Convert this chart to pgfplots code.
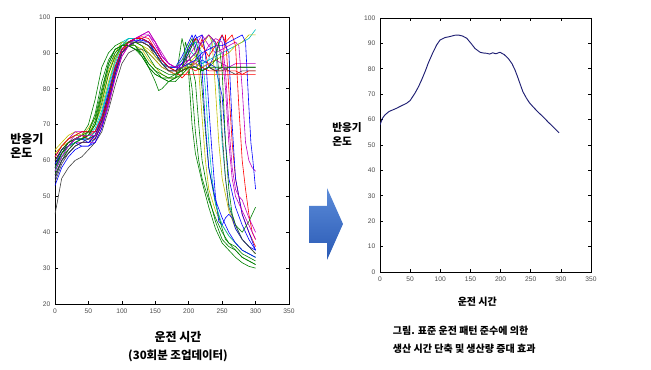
\documentclass[border=0pt]{standalone}
\usepackage{pgfplots}
\pgfplotsset{compat=1.18}
\usepackage{fontspec}
\setmainfont{Liberation Sans}
\newfontfamily\kr{Noto Sans CJK KR}
\definecolor{mB}{rgb}{0,0,1}
\definecolor{mG}{rgb}{0,0.5,0}
\definecolor{mR}{rgb}{1,0,0}
\definecolor{mC}{rgb}{0,0.75,0.75}
\definecolor{mM}{rgb}{0.75,0,0.75}
\definecolor{mY}{rgb}{0.75,0.75,0}
\definecolor{mK}{rgb}{0.25,0.25,0.25}
\definecolor{navy}{rgb}{0.12,0.12,0.45}
\definecolor{arrL}{HTML}{5B8BD9}
\definecolor{arrD}{HTML}{2A5AB5}
\pgfplotsset{
  matstyle/.style={
    scale only axis,
    axis line style={black,line width=0.7pt},
    tick align=inside,
    major tick length=2.5pt,
    tick style={black,line width=0.5pt},
    ticklabel style={font=\fontsize{5}{6}\selectfont, text=black!70},
    /pgf/number format/assume math mode=true,
    every axis plot/.append style={line width=0.45pt, line join=round},
  }
}
\begin{document}
\begin{tikzpicture}
\useasboundingbox (0pt,0pt) rectangle (488.25pt,277.5pt);
% left axis
\begin{axis}[matstyle,
  at={(41.25pt,49.5pt)}, anchor=south west,
  width=175.5pt, height=215.25pt,
  xmin=0, xmax=350, ymin=20, ymax=100,
  xtick={0,50,...,350}, ytick={20,30,...,100},
]
\addplot[mB] coordinates {(0,55)(10,60)(20,62)(30,64)(40,65)(50,65)(60,67)(70,71)(80,78)(90,85)(100,91)(110,93)(120,93.5)(130,93.5)(140,93)(150,90)(160,87)(170,85)(180,84)(190,85)(200,87)(210,86)(220,88)(230,87)(240,86)(250,78)(255,65)(260,55)(270,47)(280,42)(290,38)(300,35)};
\addplot[mG] coordinates {(0,58)(10,62)(20,64)(30,66)(40,67)(50,70)(60,77)(70,86)(80,90)(90,92)(100,93)(110,93)(120,92)(130,89)(140,86)(150,82)(155,79.5)(160,80)(170,82)(180,83)(185,88)(190,94)(195,90)(200,84)(205,70)(210,62)(220,54)(230,47)(240,41)(250,37)(260,35)(270,33)(280,31.5)(290,30.5)(300,30)};
\addplot[mR] coordinates {(0,60)(10,63)(20,65)(30,66)(40,67)(50,66)(60,66)(70,70)(80,76)(90,84)(100,90)(110,93)(120,94)(130,94.5)(140,94)(150,91)(160,88)(170,86)(180,85)(190,83)(200,85)(210,88)(220,94)(225,90)(230,86)(240,85)(250,86)(255,95)(260,80)(265,65)(270,55)(280,45)(290,40)(300,36)};
\addplot[mC] coordinates {(0,57)(10,62)(20,64)(30,66)(40,66)(50,66)(60,68)(70,73)(80,81)(90,88)(100,93)(110,94)(120,94)(130,93)(140,92)(150,90)(160,87)(170,86)(180,86)(190,87)(200,86)(210,88)(220,87)(230,88)(240,89)(250,90)(260,91)(270,92)(280,93)(290,94)(300,96.5)};
\addplot[mM] coordinates {(0,59)(10,62)(20,65)(30,67)(40,68)(50,68)(60,66)(70,70)(80,77)(90,84)(100,90)(110,93)(120,94)(130,95)(140,96)(150,93)(160,89)(170,87)(180,86)(190,87)(200,89)(210,92)(220,95)(230,92)(240,90)(250,91)(260,92)(270,93)(275,92)(280,80)(285,65)(290,60)(295,58)(300,57)};
\addplot[mY] coordinates {(0,62)(10,64)(20,65)(30,66)(40,67)(50,69)(60,72)(70,78)(80,85)(90,89)(100,91)(110,92)(120,92)(130,91)(140,88)(150,86)(160,84)(170,83)(180,83)(190,84)(200,86)(210,88)(215,85)(220,72)(225,60)(230,52)(240,46)(250,42)(260,39)(270,37)(280,35)(290,34)(300,33)};
\addplot[mK] coordinates {(0,45)(5,50)(10,55)(20,58)(30,60)(40,61)(50,63)(60,65)(70,68)(80,74)(90,81)(100,87)(110,90)(120,91)(130,91)(140,90)(150,88)(160,86)(170,85)(180,85)(190,86)(200,87)(210,86)(220,85)(230,86)(240,85)(250,86)(260,85)(270,84)(280,85)(290,85)(300,85)};
\addplot[mB] coordinates {(0,60)(10,63)(20,64)(30,65)(40,64)(50,64)(60,66)(70,71)(80,78)(90,86)(100,91)(110,93)(120,94)(130,94)(140,93)(150,91)(160,88)(170,86)(180,86)(190,89)(200,93)(205,95)(210,92)(215,88)(220,85)(230,86)(240,90)(250,95)(255,92)(260,90)(265,70)(270,55)(280,45)(290,40)(300,35)};
\addplot[mG] coordinates {(0,57)(10,61)(20,63)(30,65)(40,66)(50,67)(60,71)(70,79)(80,87)(90,91)(100,92)(110,92)(120,91)(130,90)(140,86)(150,84)(160,83)(170,82)(180,82)(190,84)(195,93)(200,90)(210,82)(215,70)(220,60)(230,50)(240,43)(250,38)(260,36)(270,35)(280,33)(290,32)(300,31)};
\addplot[mR] coordinates {(0,58)(10,62)(20,64)(30,66)(40,67)(50,67)(60,68)(70,72)(80,78)(90,85)(100,90)(110,92)(120,93)(130,93)(140,92)(150,90)(160,87)(170,85)(180,84)(190,84)(200,84)(210,84)(220,84)(230,84)(240,84)(250,84)(260,84)(270,84)(280,84)(290,84)(300,84)};
\addplot[mC] coordinates {(0,61)(10,64)(20,66)(30,67)(40,67)(50,67)(60,69)(70,74)(80,81)(90,88)(100,92)(110,94)(120,94)(130,94)(140,93)(150,90)(160,87)(170,86)(180,86)(190,88)(200,91)(210,89)(220,87)(230,88)(235,94)(240,92)(245,80)(250,65)(255,55)(260,48)(270,42)(280,38)(290,36)(300,34)};
\addplot[mM] coordinates {(0,56)(10,60)(20,63)(30,65)(40,65)(50,65)(60,65)(70,69)(80,75)(90,83)(100,89)(110,92)(120,93)(130,94)(140,95)(150,93)(160,89)(170,87)(180,86)(190,85)(200,86)(210,87)(220,86)(230,87)(240,88)(250,87)(260,86)(270,87)(280,87)(290,87)(300,87)};
\addplot[mY] coordinates {(0,63)(10,65)(20,67)(30,68)(40,67)(50,67)(60,70)(70,77)(80,84)(90,90)(100,93)(110,93)(120,93)(130,92)(140,90)(150,88)(160,86)(170,85)(180,84)(190,85)(200,87)(210,89)(220,92)(230,95)(235,93)(240,80)(245,65)(250,55)(260,46)(270,41)(280,38)(290,36)(300,34)};
\addplot[mK] coordinates {(0,54)(10,59)(20,62)(30,64)(40,65)(50,65)(60,66)(70,70)(80,77)(90,84)(100,90)(110,92)(120,93)(130,93)(140,92)(150,89)(160,87)(170,86)(180,85)(190,85)(200,86)(210,86)(220,85)(230,86)(240,85)(250,85)(260,86)(270,86)(280,86)(290,86)(300,86)};
\addplot[mB] coordinates {(0,58)(10,62)(20,64)(30,66)(40,66)(50,66)(60,67)(70,71)(80,78)(90,86)(100,91)(110,93)(120,93)(130,94)(140,93)(150,91)(160,88)(170,86)(180,86)(190,87)(200,90)(210,94)(220,95)(225,90)(230,75)(235,62)(240,50)(245,43)(250,42)(255,44)(260,45)(265,44)(270,41)(280,38)(290,36)(300,35)};
\addplot[mG] coordinates {(0,59)(10,62)(20,64)(30,65)(40,66)(50,68)(60,73)(70,82)(80,88)(90,91)(100,92)(110,92)(120,91)(130,90)(140,87)(150,85)(160,84)(170,83)(180,83)(190,86)(200,90)(210,94)(215,90)(220,80)(225,68)(230,58)(240,48)(250,41)(255,38)(260,37)(270,36)(280,34)(290,33)(300,32)};
\addplot[mR] coordinates {(0,60)(10,63)(20,65)(30,66)(40,67)(50,66)(60,67)(70,71)(80,77)(90,85)(100,90)(110,93)(120,94)(130,94)(140,93)(150,91)(160,88)(170,86)(180,86)(190,88)(200,91)(210,94)(220,92)(230,89)(240,92)(250,95)(255,93)(260,94)(265,95)(270,92)(275,75)(280,60)(285,52)(290,45)(295,40)(300,38)};
\addplot[mC] coordinates {(0,57)(10,61)(20,64)(30,65)(40,66)(50,66)(60,68)(70,73)(80,80)(90,87)(100,92)(110,94)(120,94)(130,94)(140,93)(150,90)(160,87)(170,86)(180,86)(190,88)(200,92)(210,93)(220,90)(225,80)(230,65)(235,55)(240,48)(250,42)(260,39)(270,37)(280,35)(290,34)(300,33)};
\addplot[mM] coordinates {(0,61)(10,64)(20,66)(30,68)(40,68)(50,68)(60,68)(70,72)(80,79)(90,86)(100,91)(110,93)(120,94)(130,95)(140,95)(150,92)(160,89)(170,87)(180,86)(190,87)(200,88)(210,87)(220,89)(230,92)(240,94)(250,93)(255,85)(260,70)(265,58)(270,52)(275,50)(280,49)(290,44)(300,40)};
\addplot[mY] coordinates {(0,62)(10,64)(20,66)(30,67)(40,67)(50,68)(60,70)(70,75)(80,82)(90,88)(100,92)(110,93)(120,93)(130,92)(140,91)(150,89)(160,87)(170,85)(180,85)(190,86)(200,86)(210,87)(220,86)(230,87)(240,88)(250,89)(260,90)(270,92)(280,93)(290,95)(300,95)};
\addplot[mB] coordinates {(0,53)(10,58)(20,61)(30,63)(40,64)(50,64)(60,65)(70,69)(80,76)(90,84)(100,90)(110,92)(120,93)(130,93)(140,93)(150,91)(160,88)(170,86)(180,86)(190,86)(200,87)(210,88)(220,90)(230,91)(240,92)(250,92)(260,93)(270,94)(280,95)(285,93)(290,75)(293,65)(296,60)(300,52)};
\addplot[mB] coordinates {(0,59)(10,63)(20,65)(30,66)(40,66)(50,65)(60,67)(70,72)(80,79)(90,86)(100,91)(110,93)(120,94)(130,94)(140,93)(150,90)(160,87)(170,85)(180,85)(190,87)(200,91)(210,95)(215,93)(220,85)(225,70)(230,58)(240,49)(250,44)(260,40)(270,37)(280,35)(290,34)(300,33)};
\addplot[mG] coordinates {(0,56)(10,60)(20,63)(30,65)(40,66)(50,67)(60,70)(70,78)(80,86)(90,90)(100,92)(110,92)(120,92)(130,90)(140,87)(150,85)(160,83)(170,82)(180,83)(190,84)(200,86)(205,80)(210,68)(215,60)(220,55)(230,49)(240,44)(250,40)(260,37)(270,35)(280,33)(290,32)(300,31)};
\addplot[mR] coordinates {(0,61)(10,64)(20,66)(30,67)(40,68)(50,68)(60,68)(70,72)(80,78)(90,86)(100,91)(110,93)(120,94)(130,94)(140,93)(150,91)(160,88)(170,86)(180,85)(190,85)(200,86)(210,85)(220,86)(230,85)(240,85)(250,85)(260,85)(270,85)(280,84)(290,85)(300,85)};
\addplot[mG] coordinates {(0,58)(10,62)(20,65)(30,66)(40,67)(50,68)(60,72)(70,80)(80,87)(90,91)(100,92)(110,92)(120,91)(130,89)(140,86)(150,84)(160,83)(170,83)(180,84)(190,86)(200,92)(205,94)(210,90)(220,85)(230,86)(240,88)(245,93)(250,85)(255,65)(260,52)(265,45)(270,42)(280,40)(290,43)(300,47)};
\addplot[mK] coordinates {(0,55)(10,60)(20,62)(30,64)(40,65)(50,66)(60,67)(70,71)(80,78)(90,85)(100,90)(110,92)(120,93)(130,93)(140,92)(150,90)(160,87)(170,85)(180,85)(190,86)(200,88)(210,90)(220,93)(230,95)(240,93)(245,85)(250,68)(255,55)(260,47)(270,42)(280,38)(290,36)(300,34)};
\addplot[mG] coordinates {(0,60)(10,63)(20,65)(30,66)(40,66)(50,67)(60,70)(70,76)(80,84)(90,89)(100,92)(110,93)(120,93)(130,92)(140,89)(150,86)(160,85)(170,84)(180,84)(190,85)(200,86)(210,86)(220,85)(230,86)(240,86)(250,86)(260,86)(270,86)(280,86)(290,86)(300,86)};
\addplot[mM] coordinates {(0,57)(10,61)(20,64)(30,66)(40,67)(50,67)(60,67)(70,70)(80,76)(90,83)(100,89)(110,92)(120,94)(130,95)(140,96)(150,93)(160,90)(170,87)(180,86)(190,86)(200,88)(210,90)(220,93)(230,95)(240,93)(250,90)(255,80)(260,65)(265,55)(270,50)(280,46)(290,42)(300,38)};
\end{axis}
% right axis
\begin{axis}[matstyle,
  at={(285pt,73.5pt)}, anchor=south west,
  width=158.25pt, height=190.5pt,
  xmin=0, xmax=350, ymin=0, ymax=100,
  xtick={0,50,...,350}, ytick={0,10,...,100},
]
\addplot[navy, line width=0.7pt] coordinates {(0,57.9)(4,60.5)(8,61.8)(15,63.2)(27,64.4)(36,65.5)(44,66.4)(50,67.5)(58,70.4)(64,73)(69,75.6)(75,79)(80,82.2)(87,86)(94,89.4)(99.5,91.3)(108,92.3)(116,92.7)(124,93.2)(130,93.3)(137,92.9)(144,92)(151,90)(157.6,88)(166,86.5)(172,86.2)(177,86.1)(182,85.8)(187,86.3)(192,85.9)(199,86.5)(206,85.6)(213,84)(219,82)(224,79.5)(228,77)(232,74.3)(237,71)(243,68.4)(248,66.6)(254,65)(262,63)(271,61)(279,59)(287,57.2)(292,56)(297,54.8)};
\end{axis}
% labels
\node[anchor=west, align=left, font=\kr\bfseries\fontsize{9}{11}\selectfont, inner sep=0] at (7.5pt,168pt) {반응기\\온도};
\node[font=\kr\bfseries\fontsize{9}{11}\selectfont, inner sep=0] at (133.5pt,25pt) {운전 시간};
\node[font=\kr\bfseries\fontsize{8.6}{11}\selectfont, inner sep=0] at (133.5pt,10.5pt) {(30회분 조업데이터)};
\node[anchor=west, align=left, font=\kr\bfseries\fontsize{8}{10.5}\selectfont, inner sep=0] at (249pt,176.5pt) {반응기\\온도};
\node[font=\kr\bfseries\fontsize{7.5}{9}\selectfont, inner sep=0] at (358pt,51pt) {운전 시간};
\node[anchor=west, align=left, font=\kr\bfseries\fontsize{7.5}{13.5}\selectfont, inner sep=0] at (294.5pt,22.5pt) {그림. 표준 운전 패턴 준수에 의한\\생산 시간 단축 및 생산량 증대 효과};
% arrow
\shade[top color=arrL, bottom color=arrD]
  (231.75pt,95.25pt) -- (245.25pt,95.25pt) -- (245.25pt,82.5pt) -- (257.25pt,109.5pt) -- (245.25pt,136.5pt) -- (245.25pt,123pt) -- (231.75pt,123pt) -- cycle;
\end{tikzpicture}
\end{document}
